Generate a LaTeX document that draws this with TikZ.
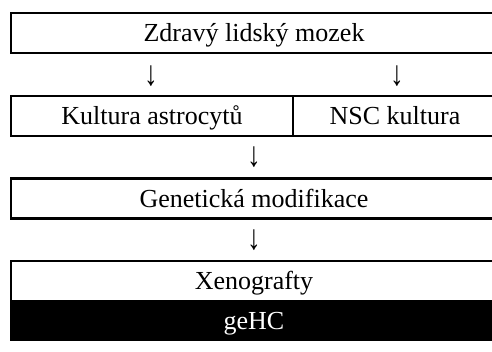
\documentclass[tikz,border=0pt]{standalone}
\usepackage{fontspec}
\setmainfont{Liberation Serif}
\begin{document}
\begin{tikzpicture}[x=1pt,y=-1pt,
  cell/.style={draw=black, line width=2.2pt, rectangle, inner sep=0pt,
    minimum height=40pt, text height=17pt, text depth=0pt,
    font=\fontsize{26}{30}\selectfont},
  wide/.style={cell, minimum width=486pt},
  darkcell/.style={wide, fill=black, text=white},
  down/.style={inner sep=0pt, font=\fontsize{26}{30}\selectfont}]
\useasboundingbox (0,0) rectangle (492,351);
\fill[white] (0,0) rectangle (492,351);
\clip (0,0) rectangle (492,351);

% top row: source tissue
\node[wide] (brain) at (254,32.7) {Zdravý lidský mozek};
\node[down] (a1) at (151,76) {\scalebox{1.05}[1.35]{↓}};
\node[down] (a2) at (397,76) {\scalebox{1.05}[1.35]{↓}};

% two cultures side by side
\node[cell, minimum width=282pt] (astro) at (152,116) {Kultura astrocytů};
\node[cell, minimum width=204pt] (nsc) at (395,116) {NSC kultura};
\node[down] (a3) at (254,157) {\scalebox{1.05}[1.35]{↓}};

% modification step
\node[wide] (gene) at (254,198.5) {Genetická modifikace};
\node[down] (a4) at (254,240) {\scalebox{1.05}[1.35]{↓}};

% result: xenografts over the dark label band
\node[wide] (xeno) at (254,281) {Xenografty};
\node[darkcell, minimum height=39pt] (gehc) at (254,320.5) {geHC};
\end{tikzpicture}
\end{document}
